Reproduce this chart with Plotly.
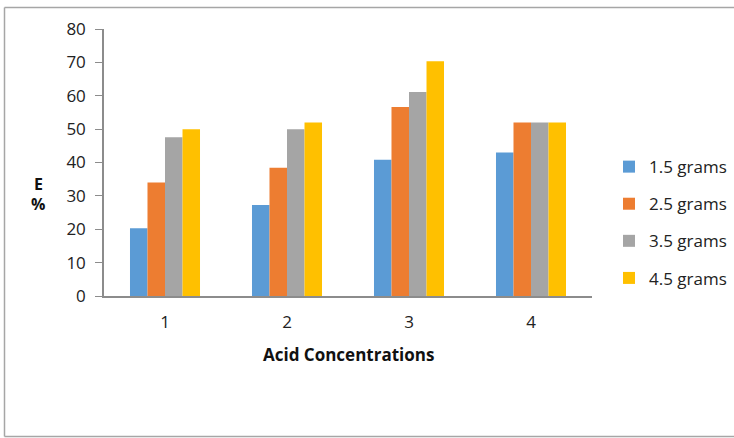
import plotly.graph_objects as go

categories = ["1", "2", "3", "4"]
series_names = ["1.5 grams", "2.5 grams", "3.5 grams", "4.5 grams"]
v_15 = [20.3, 27.3, 40.8, 43.0]
v_25 = [34.0, 38.4, 56.6, 52.0]
v_35 = [47.6, 50.0, 61.1, 52.0]
v_45 = [50.0, 52.0, 70.3, 52.0]
y_ticks = [0, 10, 20, 30, 40, 50, 60, 70, 80]
colors = ["#5B9BD5", "#ED7D31", "#A5A5A5", "#FFC000"]

W, H = 734, 438
ML, MR, MT, MB = 104, 142, 29, 142
pw = W - ML - MR
ph = H - MT - MB

fig = go.Figure()
for i, (name, vals) in enumerate(zip(series_names, [v_15, v_25, v_35, v_45])):
    fig.add_trace(go.Bar(x=categories, y=vals, name=name, marker_color=colors[i],
                         marker_line_width=0, legendgroup=name))

font = "Open Sans, Liberation Sans, sans-serif"
fig.update_layout(
    width=W, height=H,
    margin=dict(l=ML, r=MR, t=MT, b=MB, autoexpand=False),
    paper_bgcolor="white", plot_bgcolor="white",
    barmode="group", bargap=0.426, bargroupgap=0,
    font=dict(family=font, size=17, color="#222222"),
    showlegend=True,
    legend=dict(xref="container", x=609 / W, xanchor="left", y=0.275, yanchor="middle",
                font=dict(size=17, color="#222222"), tracegroupgap=12,
                traceorder="grouped", itemwidth=30),
    xaxis=dict(showline=True, linecolor="#8c8c8c", linewidth=1.5, ticks="",
               showgrid=False, ticklabelstandoff=10, tickfont=dict(size=17),
               automargin=False),
    yaxis=dict(range=[0, 80], tickvals=y_ticks, showline=True, linecolor="#8c8c8c",
               linewidth=1.5, ticks="outside", ticklen=7, tickcolor="#8c8c8c",
               showgrid=False, zeroline=False, tickfont=dict(size=17),
               ticklabelstandoff=6, automargin=False),
)

# axis titles
fig.add_annotation(text="<b>Acid Concentrations</b>", xref="paper", yref="paper",
                   x=0.5, y=-(354 - (MT + ph)) / ph, xanchor="center", yanchor="middle",
                   showarrow=False, font=dict(size=17, color="#111111"))
fig.add_annotation(text="<b>E</b>", xref="paper", yref="paper",
                   x=(38 - ML) / pw, y=(MT + ph - 184) / ph, xanchor="center", yanchor="middle",
                   showarrow=False, font=dict(size=16, color="#111111"))
fig.add_annotation(text="<b>%</b>", xref="paper", yref="paper",
                   x=(38 - ML) / pw, y=(MT + ph - 204) / ph, xanchor="center", yanchor="middle",
                   showarrow=False, font=dict(size=16, color="#111111"))

# chart border (right edge lies outside the picture)
def px_x(px):
    return (px - ML) / pw
def px_y(py):
    return (MT + ph - py) / ph
border = dict(color="#a6a6a6", width=1.5)
for (x0, y0, x1, y1) in [(4.5, 7.5, 734, 7.5), (4.5, 7.5, 4.5, 436.5), (4.5, 436.5, 734, 436.5)]:
    fig.add_shape(type="line", xref="paper", yref="paper",
                  x0=px_x(x0), x1=px_x(x1), y0=px_y(y0), y1=px_y(y1),
                  line=border, layer="below")

fig.write_html("out.html", config={"displayModeBar": False},
               post_script="document.body.style.margin='0';document.body.style.overflow='hidden';")
